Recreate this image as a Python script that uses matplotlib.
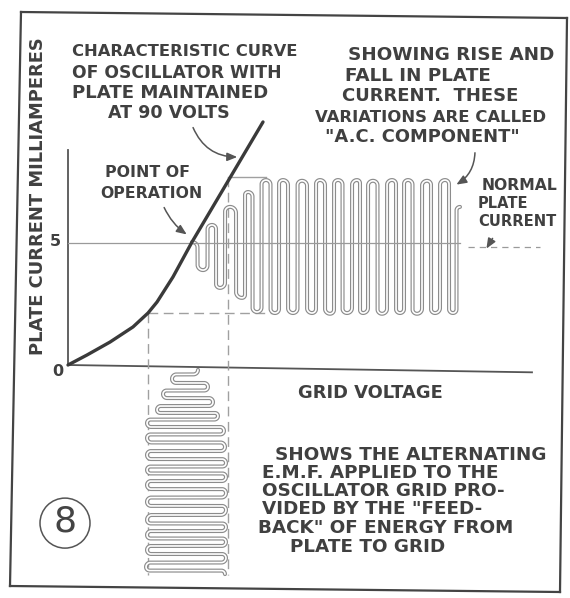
import numpy as np
import matplotlib
matplotlib.use("Agg")
import matplotlib.pyplot as plt
from matplotlib.patches import Ellipse

# ---------------- data ----------------
# characteristic curve: grid voltage (arb. units) vs plate current (mA)
curve_grid_v = [0.0, 1.9, 4.2, 6.5, 8.0, 8.9, 10.5, 12.4, 19.5]
curve_ma = [0.0, 0.41, 0.94, 1.56, 2.13, 2.58, 3.61, 5.04, 9.96]

# operating point and grid swing
op_grid_v, op_ma = 12.4, 5.0
swing_lo_v, swing_hi_v = 8.0, 16.0
swing_lo_ma, swing_hi_ma = 2.13, 7.7

# plate-current wave (time axis to the right): extrema
plate_t = [12.4, 13.5, 14.4, 15.2, 16.2, 17.4, 18.0, 18.9, 19.8, 20.7, 21.5,
           22.5, 23.4, 24.4, 25.2, 26.2, 27.0, 27.9, 28.9, 29.5, 30.5, 31.4,
           32.4, 33.2, 34.0, 34.9, 35.9, 36.7, 37.7, 38.5, 39.2]
plate_ma = [5.04, 3.89, 5.74, 3.16, 6.48, 2.75, 7.09, 2.17, 7.58, 2.13, 7.58,
            2.13, 7.55, 2.13, 7.58, 2.10, 7.58, 2.13, 7.58, 2.13, 7.55, 2.10,
            7.58, 2.13, 7.58, 2.10, 7.55, 2.13, 7.58, 2.13, 6.48]

# grid e.m.f. wave (time axis downward): extrema
grid_v = [13.0, 10.4, 14.0, 9.5, 14.5, 8.9, 15.0, 7.9, 15.6, 7.9, 15.7, 7.9,
          15.8, 7.9, 15.8, 7.9, 15.8, 7.9, 15.8, 7.9, 15.8, 7.9, 15.8, 7.9,
          15.8, 7.8, 15.7]
grid_t = [-0.20, -0.57, -0.90, -1.19, -1.52, -1.84, -2.09, -2.38, -2.70, -2.99,
          -3.36, -3.69, -4.02, -4.30, -4.59, -4.92, -5.25, -5.61, -5.94, -6.35,
          -6.64, -6.97, -7.25, -7.58, -7.91, -8.28, -8.57]

y_ticks = [0, 5]
y_tick_labels = ["0", "5"]

# ---------------- figure ----------------
W, H = 570, 598
PXX, PXY = 10.0, 24.4      # pixels per grid unit / per mA
X0, Y0 = 68, 365           # origin in pixels
fig = plt.figure(figsize=(W / 100, H / 100), dpi=100)
fig.patch.set_facecolor("white")
ax = fig.add_axes([0, 0, 1, 1])
ax.set_xlim(-X0 / PXX, (W - X0) / PXX)
ax.set_ylim(-(H - Y0) / PXY, Y0 / PXY)
ax.axis("off")
renderer = fig.canvas.get_renderer()

INK = "#404040"
GREY = "#8c8c8c"


def F(x, y):
    return (x / W, 1 - y / H)


def hairpin(xs, ys, vertical=True):
    """Path through alternating extrema with straight strokes and round caps."""
    px, py = [], []
    for i in range(len(xs) - 1):
        x0, y0, x1, y1 = xs[i], ys[i], xs[i + 1], ys[i + 1]
        phi = np.linspace(0, np.pi / 2, 10)
        if vertical:
            rx = abs(x1 - x0) / 2
            ry = min(rx * PXX / PXY, abs(y1 - y0) / 2)
            s = np.sign(y1 - y0)
            d = np.sign(x1 - x0)
            ax_ = x0 + d * rx * np.sin(phi)
            ay_ = y0 + s * ry * (1 - np.cos(phi))
            bx_ = x1 - d * rx * np.sin(phi[::-1])
            by_ = y1 - s * ry * (1 - np.cos(phi[::-1]))
        else:
            ry = abs(y1 - y0) / 2
            rx = min(ry * PXY / PXX, abs(x1 - x0) / 2)
            s = np.sign(x1 - x0)
            d = np.sign(y1 - y0)
            ay_ = y0 + d * ry * np.sin(phi)
            ax_ = x0 + s * rx * (1 - np.cos(phi))
            by_ = y1 - d * ry * np.sin(phi[::-1])
            bx_ = x1 - s * rx * (1 - np.cos(phi[::-1]))
        px += list(ax_) + list(bx_)
        py += list(ay_) + list(by_)
    return np.array(px), np.array(py)


def tube(x, y, z=3):
    ax.plot(x, y, color=GREY, lw=2.9, solid_capstyle="round",
            solid_joinstyle="round", zorder=z)
    ax.plot(x, y, color="white", lw=1.2, solid_capstyle="round",
            solid_joinstyle="round", zorder=z + 0.1)


def fit_text(s, x_left, x_right, y, base=12.0, lo=11.2, hi=13.2):
    """Hand-lettered line: left edge at x_left, font size tuned toward x_right."""
    t = fig.text(*F(x_left, y), s, ha="left", va="center", color=INK,
                 fontsize=base, fontweight="bold")
    w = t.get_window_extent(renderer).width
    size = min(hi, max(lo, base * (x_right - x_left) / w))
    t.set_fontsize(size)
    return t


# frame (hand drawn border)
for (a, b) in [((21, 12), (567, 18)), ((567, 18), (560, 592)),
               ((10, 586), (560, 592)), ((21, 12), (10, 586))]:
    fig.add_artist(plt.Line2D([a[0] / W, b[0] / W], [1 - a[1] / H, 1 - b[1] / H],
                              color="#444444", lw=1.6))

# axes lines
ax.plot([0, 0], [0, (Y0 - 150) / PXY], color="#555555", lw=1.3, zorder=2)
ax.plot([0, 46.4], [0, -0.3], color="#555555", lw=1.3, zorder=2)

# 5 mA line (normal plate current)
ax.plot([0, 39.2], [op_ma, op_ma], color="#9a9a9a", lw=0.9, zorder=6)
ax.plot([40.0, 47.2], [op_ma - 0.15, op_ma - 0.15], color="#9a9a9a", lw=0.9,
        dashes=(5, 4), zorder=6)

# dashed swing lines
ax.plot([swing_lo_v, 20.7], [swing_lo_ma, swing_lo_ma], color="#a0a0a0", lw=1.0,
        dashes=(7, 4), zorder=2)
ax.plot([swing_hi_v, 19.8], [swing_hi_ma, swing_hi_ma], color="#a0a0a0", lw=1.0,
        zorder=2)
ax.plot([swing_lo_v, swing_lo_v], [swing_lo_ma, -8.6], color="#a0a0a0", lw=1.0,
        dashes=(7, 4), zorder=2)
ax.plot([swing_hi_v, swing_hi_v], [swing_hi_ma, -8.6], color="#a0a0a0", lw=1.0,
        dashes=(7, 4), zorder=2)

# waves
px_, py_ = hairpin(plate_t, plate_ma, vertical=True)
tube(px_, py_)
gx_, gy_ = hairpin(grid_v, grid_t, vertical=False)
tube(gx_, gy_)

# characteristic curve
ax.plot(curve_grid_v, curve_ma, color="#3a3a3a", lw=2.4, solid_capstyle="round",
        solid_joinstyle="round", zorder=8)

# tick labels
for v, lab in zip(y_ticks, y_tick_labels):
    xx = 55 if v == 5 else 58
    yy = 241 if v == 5 else 372
    fig.text(*F(xx, yy), lab, ha="center", va="center", fontsize=11.5,
             color=INK, fontweight="bold")

# circle with 8
ax.add_patch(Ellipse((-0.3, -6.48), 2 * 25 / PXX, 2 * 25 / PXY, fill=False,
                     ec="#555555", lw=1.1))
fig.text(*F(65, 522), "8", ha="center", va="center", fontsize=26, color="#444444")

# y axis label (rotated), fitted to span y=37..355
yl = fig.text(*F(38, 196), "PLATE CURRENT MILLIAMPERES", rotation=90, ha="center",
              va="center", color=INK, fontsize=12, fontweight="bold")
hgt = yl.get_window_extent(renderer).height
yl.set_fontsize(min(14, 12 * (355 - 37) / hgt))

lines = [
    ("CHARACTERISTIC CURVE", 72, 297, 52),
    ("OF OSCILLATOR WITH", 72, 280, 73),
    ("PLATE MAINTAINED", 72, 268, 93),
    ("AT 90 VOLTS", 108, 230, 113),
    ("POINT OF", 105, 190, 173),
    ("OPERATION", 100, 202, 193),
    ("SHOWING RISE AND", 348, 557, 55),
    ("FALL IN PLATE", 345, 510, 76),
    ("CURRENT.  THESE", 342, 518, 96),
    ("VARIATIONS ARE CALLED", 315, 545, 117),
    ('"A.C. COMPONENT"', 325, 520, 137),
    ("GRID VOLTAGE", 298, 443, 393),
    ("SHOWS THE ALTERNATING", 275, 548, 455),
    ("E.M.F. APPLIED TO THE", 262, 510, 473),
    ("OSCILLATOR GRID PRO-", 262, 528, 491),
    ('VIDED BY THE "FEED-', 262, 500, 509),
    ('BACK" OF ENERGY FROM', 258, 518, 528),
    ("PLATE TO GRID", 290, 448, 547),
]
for s, xl, xr, y in lines:
    fit_text(s, xl, xr, y)

for s, xl, xr, y in [("NORMAL", 482, 558, 185), ("PLATE", 478, 528, 203),
                     ("CURRENT", 478, 556, 222)]:
    fit_text(s, xl, xr, y, lo=10.0, hi=11.5)


# arrows (figure pixels, origin bottom-left)
def arrow(p0, p1, rad):
    ax.annotate("", xy=(p1[0], H - p1[1]), xytext=(p0[0], H - p0[1]),
                xycoords="figure pixels", textcoords="figure pixels",
                arrowprops=dict(arrowstyle="-|>,head_length=0.6,head_width=0.25",
                                color="#555555", lw=1.1,
                                connectionstyle=f"arc3,rad={rad}"), zorder=9)


arrow((192, 125), (240, 157), 0.35)
arrow((163, 205), (189, 236), 0.15)
arrow((475, 150), (454, 186), -0.3)
arrow((494, 236), (485, 251), 0.0)

fig.savefig("out.png", dpi=100, facecolor="white")
